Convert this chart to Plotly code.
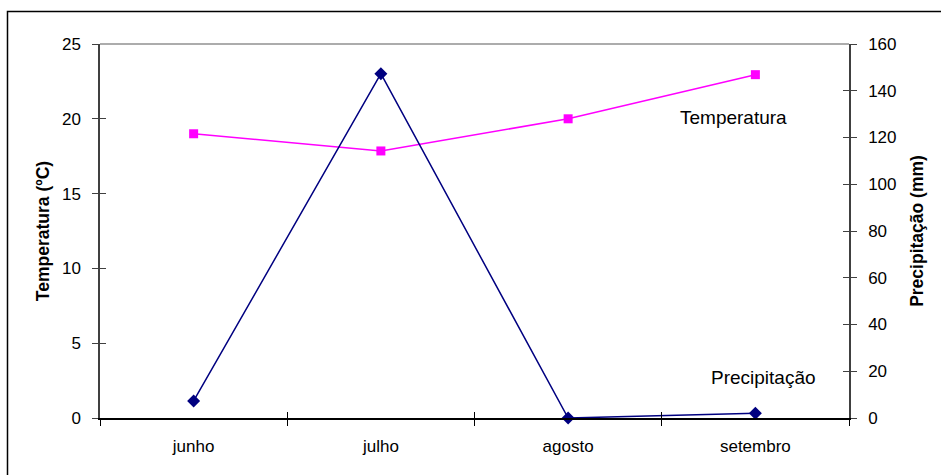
import plotly.graph_objects as go

meses = ["junho", "julho", "agosto", "setembro"]
temperatura = [19.0, 17.85, 20.0, 22.95]
precipitacao = [7.3, 147.3, 0.0, 2.0]

FONT = "Liberation Sans, Arial, sans-serif"
AXC = "#404040"
n = len(meses)
bounds = [i - 0.5 for i in range(n + 1)]

fig = go.Figure()
fig.add_trace(go.Scatter(
    x=meses, y=precipitacao, yaxis="y2", mode="lines+markers",
    line=dict(color="#000080", width=1.5),
    marker=dict(symbol="diamond", size=10, color="#000080"),
    name="Precipitação", showlegend=False, cliponaxis=False))
fig.add_trace(go.Scatter(
    x=meses, y=temperatura, mode="lines+markers",
    line=dict(color="#FF00FF", width=1.5),
    marker=dict(symbol="square", size=9, color="#FF00FF"),
    name="Temperatura", showlegend=False, cliponaxis=False))

common_y = dict(showgrid=False, zeroline=False, linewidth=1.5)

fig.update_layout(
    width=941, height=475,
    margin=dict(l=100, r=92, t=44, b=57, autoexpand=False),
    paper_bgcolor="white", plot_bgcolor="white",
    font=dict(family=FONT, size=17, color="black"),
    xaxis=dict(
        type="category", range=[-0.5, n - 0.5], tickson="boundaries",
        ticks="outside", ticklen=6, tickcolor="black", showline=True,
        linecolor="black", linewidth=1.5, showgrid=False, zeroline=False,
        tickfont=dict(size=17), ticklabelstandoff=12,
    ),
    xaxis2=dict(
        overlaying="x", range=[-0.5, n - 0.5], tickvals=bounds, ticks="inside",
        ticklen=6, tickcolor="black", showticklabels=False, showline=False,
        showgrid=False, zeroline=False, anchor="y",
    ),
    yaxis=dict(
        range=[0, 25], dtick=5, ticks="outside", ticklen=6, tickcolor=AXC,
        showline=True, linecolor=AXC, tickfont=dict(size=17),
        ticklabelstandoff=8,
        title=dict(text="<b>Temperatura (ºC)</b>", font=dict(size=17.5), standoff=8),
        **common_y,
    ),
    yaxis2=dict(
        range=[0, 160], dtick=20, overlaying="y", side="right", ticks="outside",
        ticklen=6, tickcolor=AXC, showline=True, linecolor=AXC,
        tickfont=dict(size=17), ticklabelstandoff=8,
        title=dict(text="<b>Precipitação (mm)</b>", font=dict(size=17.5), standoff=15),
        **common_y,
    ),
    yaxis3=dict(
        range=[0, 25], dtick=5, overlaying="y", side="left", ticks="inside",
        ticklen=6, tickcolor=AXC, showticklabels=False, showline=False,
        showgrid=False, zeroline=False,
    ),
    yaxis4=dict(
        range=[0, 160], dtick=20, overlaying="y", side="right", ticks="inside",
        ticklen=6, tickcolor=AXC, showticklabels=False, showline=False,
        showgrid=False, zeroline=False,
    ),
    shapes=[
        dict(type="line", xref="paper", yref="paper", x0=0, x1=1, y0=1, y1=1,
             line=dict(color="#909090", width=1.5)),
        dict(type="rect", xref="paper", yref="paper", x0=-0.1235, x1=1.2,
             y0=-0.3, y1=1.0869, line=dict(color="black", width=1.5)),
    ],
    annotations=[
        dict(text="Temperatura", xref="paper", yref="paper",
             x=(733 - 100) / 749, y=(418 - 117) / 374, showarrow=False,
             xanchor="center", yanchor="middle", font=dict(size=19)),
        dict(text="Precipitação", xref="paper", yref="paper",
             x=(763 - 100) / 749, y=(418 - 377) / 374, showarrow=False,
             xanchor="center", yanchor="middle", font=dict(size=19)),
    ],
)

# invisible placeholder traces so the extra tick axes are drawn
fig.add_trace(go.Scatter(x=[None], y=[None], xaxis="x2", yaxis="y3",
                         showlegend=False, hoverinfo="skip"))
fig.add_trace(go.Scatter(x=[None], y=[None], xaxis="x", yaxis="y4",
                         showlegend=False, hoverinfo="skip"))

fig.write_html("out.html", config={"displayModeBar": False},
               post_script="document.body.style.margin='0';")
